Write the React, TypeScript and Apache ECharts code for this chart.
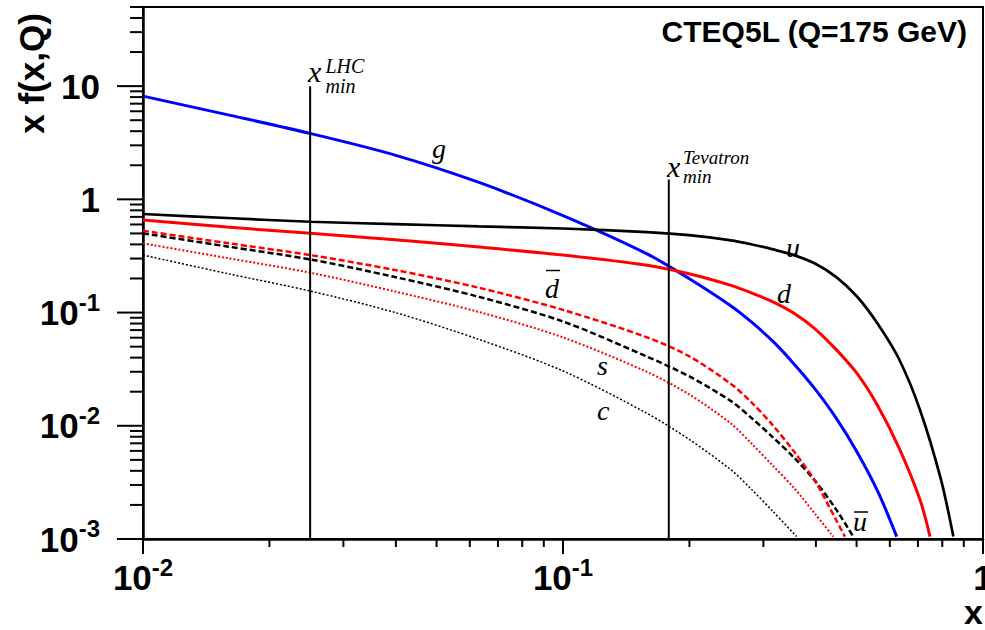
import React, { useEffect, useRef } from "react";
import * as echarts from "echarts";

// ---- axis ranges ----
const X_MIN = 0.01;
const X_MAX = 1;
const Y_MIN = 0.001;
const Y_MAX = 50;

// ---- tick values ----
const X_MAJOR = [0.01, 0.1, 1];
const X_MINOR = [0.02, 0.03, 0.04, 0.05, 0.06, 0.07, 0.08, 0.09, 0.2, 0.3, 0.4, 0.5, 0.6, 0.7, 0.8, 0.9];
const Y_MAJOR = [0.001, 0.01, 0.1, 1, 10];
const Y_MINOR = [
  0.002, 0.003, 0.004, 0.005, 0.006, 0.007, 0.008, 0.009,
  0.02, 0.03, 0.04, 0.05, 0.06, 0.07, 0.08, 0.09,
  0.2, 0.3, 0.4, 0.5, 0.6, 0.7, 0.8, 0.9,
  2, 3, 4, 5, 6, 7, 8, 9,
  20, 30, 40, 50,
];

// ---- curves (x, x f(x,Q)) ----
const G_X = [0.01, 0.01585, 0.025, 0.0398, 0.0631, 0.1, 0.1585, 0.1995, 0.2512, 0.2818, 0.3162, 0.3548, 0.398, 0.4467, 0.5012, 0.5623, 0.623];
const G_Y = [8.16, 5.6, 3.82, 2.46, 1.41, 0.719, 0.33, 0.2, 0.1144, 0.0818, 0.0556, 0.0352, 0.02117, 0.01174, 0.00588, 0.00261, 0.00105];

const U_X = [0.01, 0.01585, 0.025, 0.0398, 0.0631, 0.1, 0.1585, 0.1995, 0.2512, 0.2818, 0.3162, 0.3548, 0.398, 0.4467, 0.5012, 0.5623, 0.631, 0.708, 0.794, 0.85];
const U_Y = [0.742, 0.684, 0.634, 0.605, 0.577, 0.553, 0.5135, 0.483, 0.4346, 0.3996, 0.3612, 0.3218, 0.2713, 0.2066, 0.1387, 0.079, 0.0389, 0.0138, 0.00336, 0.00105];

const D_X = [0.01, 0.01585, 0.025, 0.0398, 0.0631, 0.1, 0.1585, 0.1995, 0.2512, 0.2818, 0.3162, 0.3548, 0.398, 0.4467, 0.5012, 0.5623, 0.631, 0.708, 0.748];
const D_Y = [0.657, 0.569, 0.501, 0.439, 0.379, 0.322, 0.2615, 0.22, 0.1738, 0.1486, 0.1241, 0.0984, 0.0719, 0.0473, 0.029, 0.0149, 0.00638, 0.00222, 0.00105];

const DBAR_X = [0.01, 0.01585, 0.025, 0.0398, 0.0631, 0.1, 0.1585, 0.1995, 0.2512, 0.2818, 0.3162, 0.3548, 0.398, 0.4467, 0.469];
const DBAR_Y = [0.528, 0.411, 0.322, 0.2377, 0.1655, 0.1056, 0.0604, 0.0412, 0.0234, 0.01593, 0.01006, 0.00592, 0.00326, 0.00148, 0.00105];

const UBAR_X = [0.01, 0.01585, 0.025, 0.0398, 0.0631, 0.1, 0.1585, 0.1995, 0.2512, 0.2818, 0.3162, 0.3548, 0.398, 0.4467, 0.491];
const UBAR_Y = [0.501, 0.384, 0.295, 0.206, 0.1376, 0.0834, 0.0408, 0.0274, 0.0165, 0.01162, 0.0079, 0.00524, 0.00328, 0.00183, 0.00105];

const S_X = [0.01, 0.01585, 0.025, 0.0398, 0.0631, 0.1, 0.1585, 0.1995, 0.2512, 0.2818, 0.3162, 0.3548, 0.398, 0.44];
const S_Y = [0.409, 0.3033, 0.225, 0.1535, 0.1012, 0.0603, 0.0299, 0.01897, 0.01046, 0.0069, 0.00443, 0.00283, 0.00167, 0.00105];

const C_X = [0.01, 0.01585, 0.025, 0.0398, 0.0631, 0.1, 0.1585, 0.1995, 0.2512, 0.2818, 0.3162, 0.36];
const C_Y = [0.322, 0.2214, 0.155, 0.1002, 0.0579, 0.0305, 0.01287, 0.0076, 0.00408, 0.00272, 0.00175, 0.00105];

// ---- x_min markers ----
const LHC_X = 0.025;
const LHC_TOP = 10;
const TEV_X = 0.1786;
const TEV_TOP = 1.5;

const pairs = (xs: number[], ys: number[]) => xs.map((x, i) => [x, ys[i]]);

const SANS = '"Liberation Sans", Arial, Helvetica, sans-serif';
const SERIF = '"Liberation Serif", "Times New Roman", serif';

function tickLabel(v: number): string {
  const l = Math.log10(v);
  const e = Math.round(l);
  if (Math.abs(l - e) > 1e-6) return "";
  if (e === 0) return "{b|1}";
  if (e === 1) return "{b|10}";
  return "{b|10}{s|" + e + "}";
}

const richLabel = {
  b: { fontFamily: SANS, fontWeight: "bold", fontSize: 35, lineHeight: 45, color: "#000" },
  s: { fontFamily: SANS, fontWeight: "bold", fontSize: 24, lineHeight: 24, verticalAlign: "top", color: "#000" },
};

function txt(text: string, x: number, y: number, font: string, align = "left", rotation = 0, lineHeight?: number) {
  return {
    type: "text",
    x,
    y,
    rotation,
    silent: true,
    z: 100,
    style: {
      text,
      font,
      fill: "#000",
      align,
      verticalAlign: "middle",
      textAlign: align,
      textVerticalAlign: "middle",
      lineHeight,
    },
  };
}

function scripts(sup: string, sub: string, x: number, y: number, size: number, lh: number) {
  return {
    type: "text",
    x,
    y,
    silent: true,
    z: 100,
    style: {
      text: sup + "\n" + sub,
      font: "italic " + size + "px " + SERIF,
      lineHeight: lh,
      fill: "#000",
      align: "left",
      verticalAlign: "middle",
      textAlign: "left",
      textVerticalAlign: "middle",
    },
  };
}

function hline(x1: number, x2: number, y: number) {
  return {
    type: "line",
    silent: true,
    z: 100,
    shape: { x1, y1: y, x2, y2: y },
    style: { stroke: "#000", lineWidth: 1.5 },
  };
}

function curve(name: string, xs: number[], ys: number[], color: string, width: number, type: any) {
  return {
    name,
    type: "line",
    data: pairs(xs, ys),
    symbol: "none",
    smooth: 0.3,
    silent: true,
    lineStyle: { color, width, type },
    z: 3,
  };
}

export default function App() {
  const ref = useRef<HTMLDivElement>(null);

  useEffect(() => {
    if (!ref.current) return;
    const chart = echarts.init(ref.current, null, { renderer: "svg" });

    const tickData: number[][] = [
      ...X_MAJOR.map((x) => [x, Y_MIN, 0]),
      ...X_MINOR.map((x) => [x, Y_MIN, 1]),
      ...Y_MAJOR.map((y) => [X_MIN, y, 2]),
      ...Y_MINOR.map((y) => [X_MIN, y, 3]),
    ];

    const option: any = {
      animation: false,
      backgroundColor: "#fff",
      grid: {
        left: 143,
        right: 2,
        top: 7,
        bottom: 91,
        containLabel: false,
        outerBoundsMode: "none",
        show: true,
        borderColor: "#000",
        borderWidth: 2,
        backgroundColor: "transparent",
      },
      xAxis: {
        type: "log",
        logBase: 10,
        min: X_MIN,
        max: X_MAX,
        axisLine: { show: true, onZero: false, lineStyle: { color: "#000", width: 2.5 } },
        axisTick: { show: false },
        splitLine: { show: false },
        minorTick: { show: false },
        axisLabel: {
          show: true,
          margin: 16,
          formatter: tickLabel,
          rich: richLabel,
          showMinLabel: true,
          showMaxLabel: true,
          hideOverlap: false,
        },
      },
      yAxis: {
        type: "log",
        logBase: 10,
        min: Y_MIN,
        max: Y_MAX,
        axisLine: { show: true, onZero: false, lineStyle: { color: "#000", width: 2.5 } },
        axisTick: { show: false },
        splitLine: { show: false },
        minorTick: { show: false },
        axisLabel: {
          show: true,
          margin: 43,
          formatter: tickLabel,
          rich: richLabel,
          showMinLabel: true,
          showMaxLabel: true,
          hideOverlap: false,
        },
      },
      series: [
        {
          type: "custom",
          name: "ticks",
          silent: true,
          clip: false,
          data: tickData,
          dimensions: ["x", "y", "kind"],
          encode: { x: 0, y: 1 },
          z: 10,
          renderItem: (_params: any, api: any) => {
            const kind = api.value(2);
            const p = api.coord([api.value(0), api.value(1)]);
            let x2 = p[0];
            let y2 = p[1];
            if (kind === 0) y2 += 15;
            else if (kind === 1) y2 += 8;
            else if (kind === 2) x2 -= 26;
            else x2 -= 13;
            return {
              type: "line",
              shape: { x1: p[0], y1: p[1], x2, y2 },
              style: { stroke: "#000", lineWidth: 2 },
            };
          },
        },
        curve("c", C_X, C_Y, "#000000", 1.5, [2, 2]),
        curve("s", S_X, S_Y, "#ff0000", 2, [2, 2]),
        curve("ubar", UBAR_X, UBAR_Y, "#000000", 2.5, [6, 3]),
        curve("dbar", DBAR_X, DBAR_Y, "#ff0000", 2.5, [6, 3]),
        curve("g", G_X, G_Y, "#0000ff", 3, "solid"),
        curve("d", D_X, D_Y, "#ff0000", 3, "solid"),
        curve("u", U_X, U_Y, "#000000", 2.7, "solid"),
        {
          name: "LHC",
          type: "line",
          data: [
            [LHC_X, Y_MIN],
            [LHC_X, LHC_TOP],
          ],
          symbol: "none",
          silent: true,
          lineStyle: { color: "#000", width: 2 },
          z: 5,
        },
        {
          name: "Tevatron",
          type: "line",
          data: [
            [TEV_X, Y_MIN],
            [TEV_X, TEV_TOP],
          ],
          symbol: "none",
          silent: true,
          lineStyle: { color: "#000", width: 2 },
          z: 5,
        },
      ],
      graphic: [
        txt("CTEQ5L (Q=175 GeV)", 967, 31.3, "bold 30px " + SANS, "right"),
        txt("x f(x,Q)", 31, 73.5, "bold 35px " + SANS, "center", Math.PI / 2),
        txt("x", 983, 612, "bold 34px " + SANS, "right", 0, 26),
        // x_min^LHC
        txt("x", 308, 71.8, "italic 30px " + SERIF),
        scripts("LHC", "min", 325.5, 75.5, 20, 20),
        // x_min^Tevatron
        txt("x", 667, 166.5, "italic 30px " + SERIF),
        scripts("Tevatron", "min", 683, 166.5, 19, 19),
        // curve names
        txt("g", 432, 148.5, "italic 28px " + SERIF),
        txt("u", 786, 247.2, "italic 28px " + SERIF),
        txt("d", 777, 293.5, "italic 28px " + SERIF),
        txt("d", 545, 288.5, "italic 28px " + SERIF),
        hline(546, 560, 270.5),
        txt("s", 597, 365.5, "italic 28px " + SERIF),
        txt("c", 597, 410.5, "italic 28px " + SERIF),
        txt("u", 853, 521.5, "italic 28px " + SERIF),
        hline(854, 868, 512),
      ],
    };

    chart.setOption(option);
    return () => {
      chart.dispose();
    };
  }, []);

  return (
    <div
      ref={ref}
      style={{ position: "fixed", left: 0, top: 0, width: 985, height: 630, background: "#fff" }}
    />
  );
}
